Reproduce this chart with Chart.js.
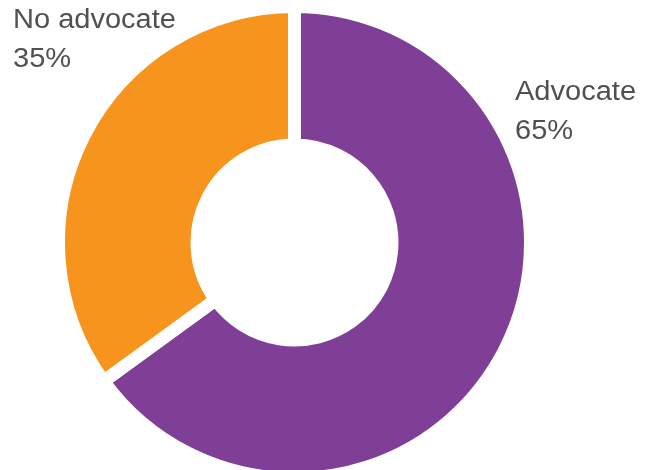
<!DOCTYPE html>
<html>
<head>
<meta charset="utf-8">
<script src="https://cdn.jsdelivr.net/npm/chart.js@4"></script>
<style>
  html, body { margin: 0; padding: 0; background: #fff; overflow: hidden; }
  #wrap { width: 655px; height: 486px; }
</style>
</head>
<body>
<div id="wrap"><canvas id="donutChart"></canvas></div>
<script>
const labels = ['Advocate', 'No advocate'];
const values = [65, 35];
const colors = ['#7F3F97', '#F7941E'];

// text labels placed beside the ring, like the original graphic
const labelPlugin = {
    id: 'sideLabels',
    afterDraw(chart) {
        const c = chart.ctx;
        const stretch = 1.075; // source font is a bit wider than Liberation Sans
        c.save();
        c.font = '27px "Liberation Sans", Arial, sans-serif';
        c.fillStyle = '#505050';
        c.textBaseline = 'alphabetic';
        c.textAlign = 'left';
        const spots = [[515, 100], [13, 28]];
        labels.forEach((name, i) => {
            const [x, y] = spots[i];
            c.save();
            c.translate(x, y);
            c.scale(stretch, 1);
            c.fillText(name, 0, 0);
            c.fillText(values[i] + '%', 0, 38.5);
            c.restore();
        });
        c.restore();
    }
};

const ctx = document.getElementById('donutChart').getContext('2d');
const donutChart = new Chart(ctx, {
    type: 'doughnut',
    data: {
        labels: labels,
        datasets: [{
            data: values,
            backgroundColor: colors,
            borderColor: '#ffffff',
            borderWidth: 13,
            hoverOffset: 0
        }]
    },
    options: {
        responsive: true,
        maintainAspectRatio: false,
        animation: false,
        cutout: '41.3%',
        layout: {
            padding: { left: 0, right: 66, top: 0, bottom: 1 }
        },
        plugins: {
            legend: { display: false },
            tooltip: { enabled: false }
        }
    },
    plugins: [labelPlugin]
});
</script>
</body>
</html>
